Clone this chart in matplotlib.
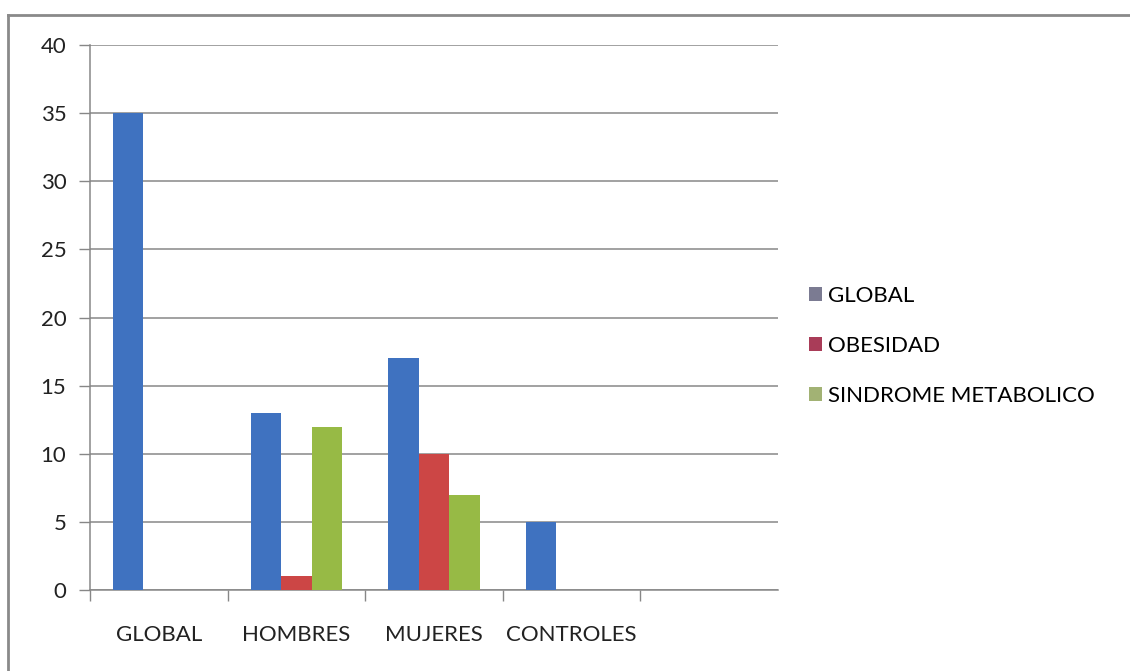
import matplotlib.pyplot as plt
import numpy as np
from matplotlib.patches import Patch
from matplotlib.lines import Line2D

plt.rcParams['font.family'] = ['Lato', 'DejaVu Sans']

# Data
categories = ['GLOBAL', 'HOMBRES', 'MUJERES', 'CONTROLES', '']
series_names = ['GLOBAL', 'OBESIDAD', 'SINDROME METABOLICO']
global_vals = [35, 13, 17, 5, 0]
obesidad_vals = [0, 1, 10, 0, 0]
sindrome_vals = [0, 12, 7, 0, 0]

bar_colors = ['#3F72C0', '#CC4645', '#97BA45']
legend_colors = ['#7B7B92', '#A93C58', '#A2B274']

fig = plt.figure(figsize=(11.3, 6.71), dpi=100)
ax = fig.add_axes([0.0796, 0.1207, 0.609, 0.8122])

x = np.arange(len(categories))
w = 1 / 4.5
for i, (vals, c) in enumerate(zip([global_vals, obesidad_vals, sindrome_vals], bar_colors)):
    ax.bar(x + (i - 1) * w, vals, width=w, color=c, zorder=3)

ax.set_xlim(-0.5, len(categories) - 0.5)
ax.set_ylim(0, 40)
ax.set_yticks(range(0, 41, 5))
ax.yaxis.grid(True, color='#878787', linewidth=1.1, zorder=0)

# category labels without tick marks, boundary ticks below the axis
ax.set_xticks(x)
ax.set_xticklabels(categories)
ax.tick_params(axis='x', which='major', length=0, pad=25, labelsize=16, labelcolor='#222222')
ax.set_xticks(np.arange(-0.5, len(categories) - 0.5, 1), minor=True)
ax.tick_params(axis='x', which='minor', length=8, color='#878787', width=1)
ax.tick_params(axis='y', length=8, color='#878787', width=1, labelsize=16,
               labelcolor='#222222', pad=9)

for s in ['top', 'right']:
    ax.spines[s].set_visible(False)
ax.spines['left'].set_color('#878787')
ax.spines['bottom'].set_color('#878787')
ax.spines['left'].set_linewidth(1.1)
ax.spines['bottom'].set_linewidth(1.1)

handles = [Patch(facecolor=c, edgecolor='none') for c in legend_colors]
fig.legend(handles, series_names, loc='center left', bbox_to_anchor=(0.698, 0.484),
           frameon=False, fontsize=16, handlelength=0.6, handleheight=0.6,
           handletextpad=0.25, labelspacing=1.35)

# outer frame (left and top edges)
fig.add_artist(Line2D([8 / 1130, 8 / 1130], [0, 1 - 15 / 671], color='#8a8a8a',
                      linewidth=2, transform=fig.transFigure))
fig.add_artist(Line2D([8 / 1130, 1], [1 - 15 / 671, 1 - 15 / 671], color='#8a8a8a',
                      linewidth=2, transform=fig.transFigure))

fig.savefig('out.png', dpi=100)
